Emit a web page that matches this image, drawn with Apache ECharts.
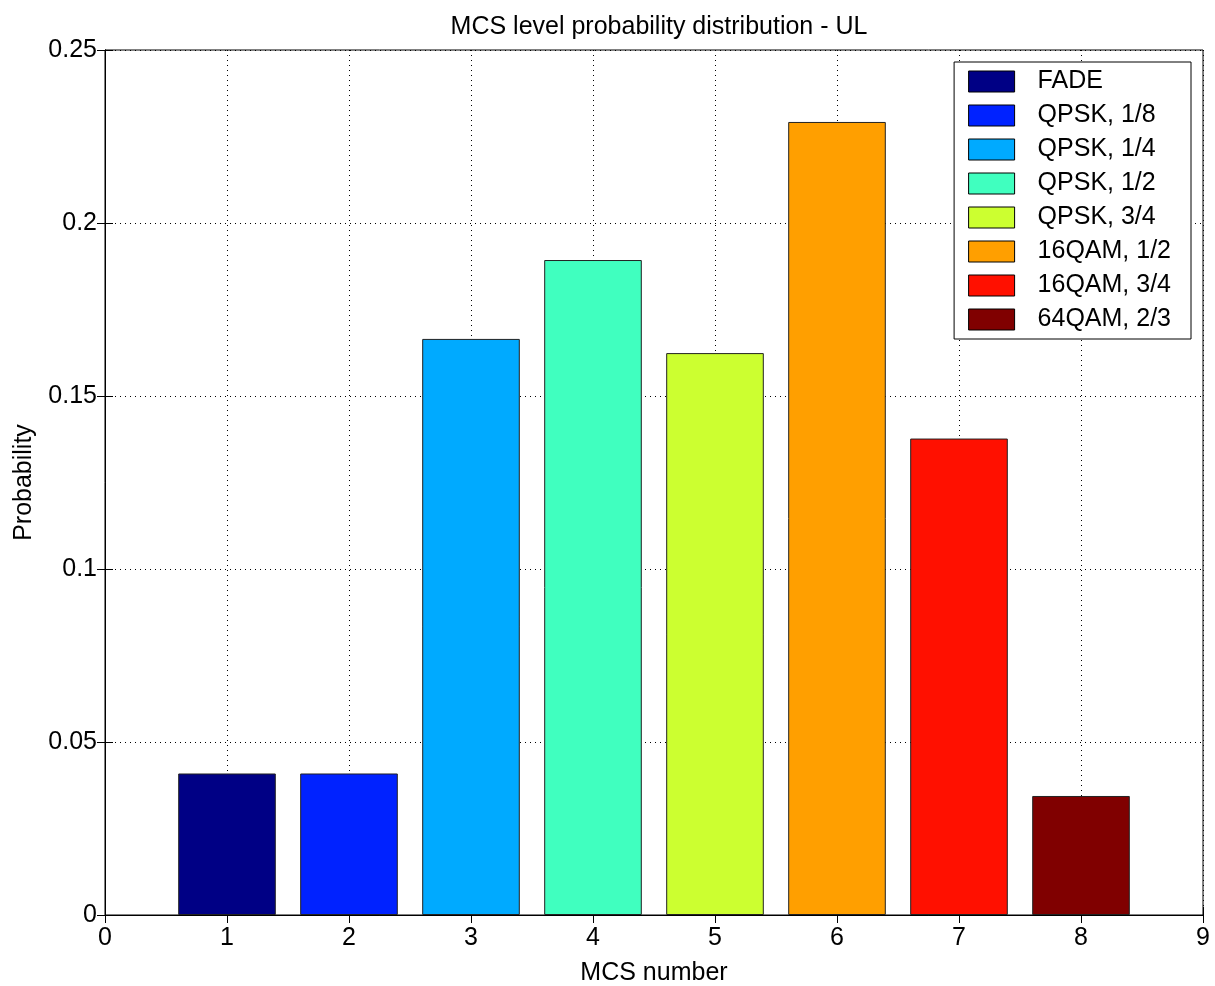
<!DOCTYPE html>
<html><head><meta charset="utf-8">
<script src="https://cdn.jsdelivr.net/npm/echarts@6/dist/echarts.min.js"></script>
<style>html,body{margin:0;padding:0;background:#fff}#c{width:1215px;height:986px}</style>
</head><body><div id="c"></div>
<script>
const names = ['FADE','QPSK, 1/8','QPSK, 1/4','QPSK, 1/2','QPSK, 3/4','16QAM, 1/2','16QAM, 3/4','64QAM, 2/3'];
const mcs = [1,2,3,4,5,6,7,8];
const probs = [0.0409,0.0409,0.1665,0.1893,0.1624,0.2292,0.1377,0.0344];
const colors = ['#000085','#0022FF','#00AAFF','#40FFBF','#CCFF30','#FF9F00','#FF1000','#800000'];
const xTicks = [0,1,2,3,4,5,6,7,8,9];
const yTicks = ['0','0.05','0.1','0.15','0.2','0.25'];

const font = 'Liberation Sans, Arial, sans-serif';
const chart = echarts.init(document.getElementById('c'));
const gridLine = {show:true,lineStyle:{color:'#000',type:[1,4],width:1}};
const series = names.map((n,i)=>({
  name:n, type:'bar', barWidth:97.6, barGap:'-100%',
  itemStyle:{color:colors[i],borderColor:'#222',borderWidth:1},
  data:[[mcs[i],probs[i]]]
}));
chart.setOption({
  animation:false,
  backgroundColor:'#fff',
  title:{text:'MCS level probability distribution - UL',left:654,textAlign:'center',top:10,
    textStyle:{fontFamily:font,fontSize:25,fontWeight:'normal',color:'#000'}},
  grid:{left:105,right:12,top:50,bottom:71,show:true,borderColor:'#000',borderWidth:1,
    containLabel:false,outerBoundsMode:'none'},
  legend:{orient:'vertical',right:24,top:62,itemWidth:46,itemHeight:21,itemGap:9,
    padding:[7,20,7,14],backgroundColor:'#fff',borderColor:'#000',borderWidth:1,
    icon:'rect',
    itemStyle:{borderColor:'#000',borderWidth:1},
    textStyle:{fontFamily:font,fontSize:25,lineHeight:21,color:'#000',padding:[0,0,0,18]},
    data:names},
  xAxis:[{type:'value',min:0,max:9,interval:1,name:'MCS number',nameLocation:'middle',nameGap:46,
    nameTextStyle:{fontFamily:font,fontSize:25,color:'#000'},
    axisLine:{show:true,lineStyle:{color:'#000'}},
    axisTick:{show:true,inside:true,length:8,lineStyle:{color:'#000'}},
    axisLabel:{fontFamily:font,fontSize:25,color:'#000',margin:11,formatter:v=>String(xTicks[Math.round(v)])},
    splitLine:gridLine},
   {type:'value',min:0,max:9,interval:1,position:'top',
    axisLine:{show:true,lineStyle:{color:'#000'}},
    axisTick:{show:true,inside:true,length:8,lineStyle:{color:'#000'}},
    axisLabel:{show:false},splitLine:{show:false}}],
  yAxis:[{type:'value',min:0,max:0.25,interval:0.05,name:'Probability',nameLocation:'middle',nameGap:68,
    nameTextStyle:{fontFamily:font,fontSize:25,color:'#000'},
    axisLine:{show:true,lineStyle:{color:'#000'}},
    axisTick:{show:true,inside:true,length:8,lineStyle:{color:'#000'}},
    axisLabel:{fontFamily:font,fontSize:25,color:'#000',margin:8,formatter:v=>yTicks[Math.round(v/0.05)]},
    splitLine:gridLine},
   {type:'value',min:0,max:0.25,interval:0.05,position:'right',
    axisLine:{show:true,lineStyle:{color:'#000'}},
    axisTick:{show:true,inside:true,length:8,lineStyle:{color:'#000'}},
    axisLabel:{show:false},splitLine:{show:false}}],
  series:series
});
</script></body></html>
